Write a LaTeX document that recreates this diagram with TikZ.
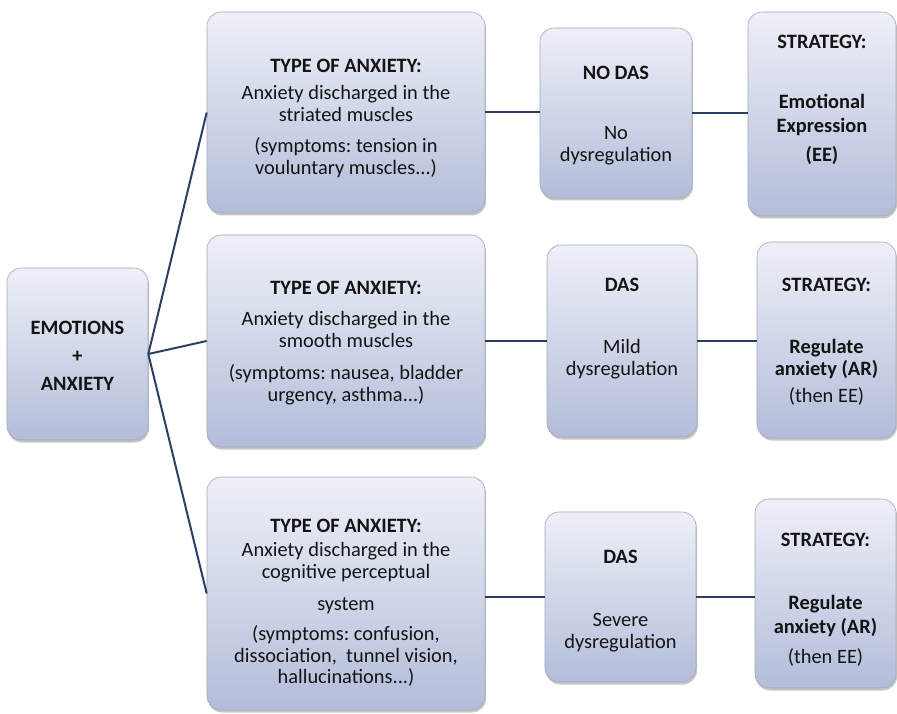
\documentclass[tikz,border=0pt]{standalone}
\usepackage{fontspec}
\setmainfont{Carlito}
\usetikzlibrary{shadows}
\definecolor{boxtop}{HTML}{EEF0F8}
\definecolor{boxbot}{HTML}{B3BDDA}
\definecolor{boxline}{HTML}{A3A8B8}
\definecolor{linkcol}{HTML}{2B3F66}
\frenchspacing
\tikzset{
    box/.style={rectangle, rounded corners=14pt, draw=boxline, line width=0.6pt,
        top color=boxtop, bottom color=boxbot, inner sep=0pt,
        drop shadow={shadow xshift=1pt, shadow yshift=-2.5pt, opacity=0.45}},
    txt/.style={anchor=north, align=center, inner sep=0pt, text=black!92,
        font=\fontsize{20.4}{22}\selectfont},
    link/.style={draw=linkcol, line width=2pt}
}
\begin{document}
\begin{tikzpicture}[x=1pt, y=-1pt]
    \useasboundingbox (0,0) rectangle (897,714);
    % boxes
    \node[box, minimum width=141pt, minimum height=172pt] (emo) at (77.5,354) {};
    \node[box, minimum width=278pt, minimum height=201pt] (type1) at (346,112.5) {};
    \node[box, minimum width=278pt, minimum height=212pt] (type2) at (346,341) {};
    \node[box, minimum width=278pt, minimum height=233pt] (type3) at (346,593.5) {};
    \node[box, minimum width=152pt, minimum height=170pt] (das1) at (616,113) {};
    \node[box, minimum width=150pt, minimum height=192pt] (das2) at (622,341) {};
    \node[box, minimum width=151pt, minimum height=170pt] (das3) at (620.5,597) {};
    \node[box, minimum width=148pt, minimum height=204pt] (str1) at (822,114) {};
    \node[box, minimum width=139pt, minimum height=196pt] (str2) at (826.5,340) {};
    \node[box, minimum width=141pt, minimum height=189pt] (str3) at (825.5,593.5) {};
    % links
    \draw[link] (type1.west) -- (emo.east) -- (type3.west);
    \draw[link] (emo.east) -- (type2.west);
    \draw[link] (type1.east) -- (type1.east -| das1.west);
    \draw[link] (das1.east) -- (das1.east -| str1.west);
    \draw[link] (type2.east) -- (type2.east -| das2.west);
    \draw[link] (das2.east) -- (das2.east -| str2.west);
    \draw[link] (type3.east |- das3.west) -- (das3.west);
    \draw[link] (das3.east) -- (das3.east -| str3.west);
    % texts
    \node[txt] (emotxt) at (77.5,321) {\textbf{EMOTIONS}\\[6pt]\textbf{+}\\[6pt]\textbf{ANXIETY}};
    \node[txt] (type1txt) at (346,59) {\textbf{TYPE OF ANXIETY:}\\[5pt]
        Anxiety discharged in the\\striated muscles\\[9pt]
        (symptoms: tension in\\vouluntary muscles...)};
    \node[txt] (type2txt) at (346,281) {\textbf{TYPE OF ANXIETY:}\\[9pt]
        Anxiety discharged in the\\smooth muscles\\[10pt]
        (symptoms: nausea, bladder\\urgency, asthma...)};
    \node[txt] (type3txt) at (346,519) {\textbf{TYPE OF ANXIETY:}\\[2pt]
        Anxiety discharged in the\\cognitive perceptual\\[10pt]
        system\\[8pt]
        (symptoms: confusion,\\dissociation,~ tunnel vision,\\[-1pt]hallucinations...)};
    \node[txt] (das1txt) at (616,66) {\textbf{NO DAS}\\[38pt]No\\dysregulation};
    \node[txt] (das2txt) at (622,278) {\textbf{DAS}\\[40pt]Mild\\dysregulation};
    \node[txt] (das3txt) at (620.5,550) {\textbf{DAS}\\[41pt]Severe\\dysregulation};
    \node[txt] (str1txt) at (822,35) {\textbf{STRATEGY:}\\[38pt]
        \textbf{Emotional}\\[2pt]\textbf{Expression}\\[7pt]\textbf{(EE)}};
    \node[txt] (str2txt) at (826.5,278) {\textbf{STRATEGY:}\\[40pt]
        \textbf{Regulate}\\\textbf{anxiety (AR)}\\[5pt](then EE)};
    \node[txt] (str3txt) at (825.5,533) {\textbf{STRATEGY:}\\[41pt]
        \textbf{Regulate}\\[2pt]\textbf{anxiety (AR)}\\[8pt](then EE)};
\end{tikzpicture}
\end{document}
